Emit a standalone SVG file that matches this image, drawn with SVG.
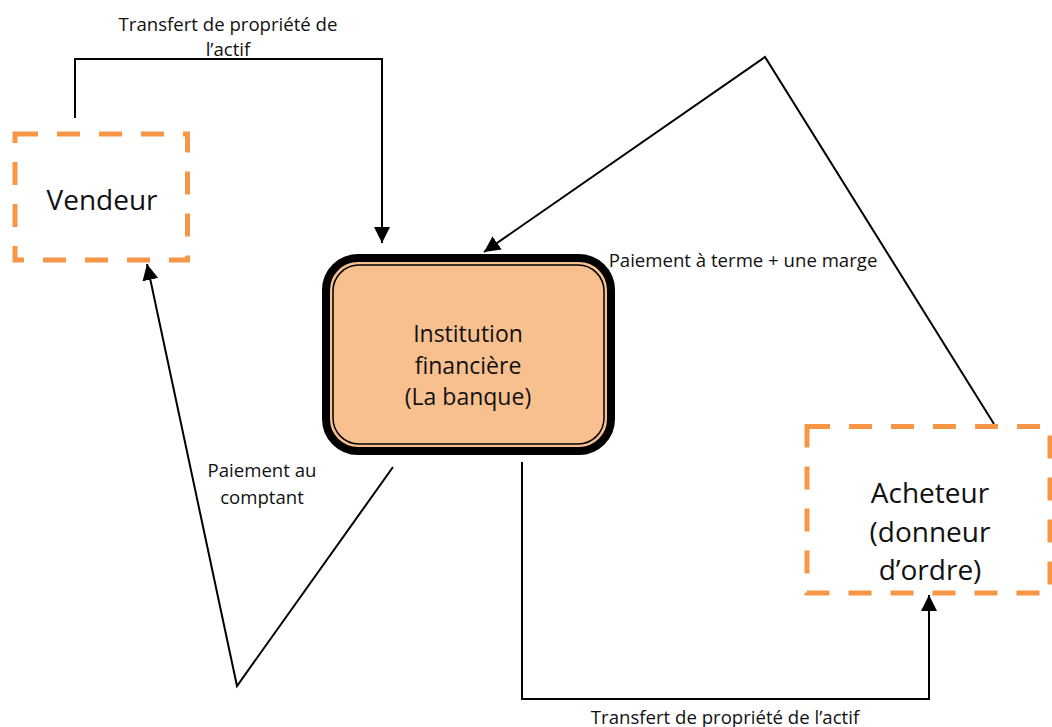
<svg xmlns="http://www.w3.org/2000/svg" width="1052" height="727" viewBox="0 0 1052 727">
  <style>
    text { font-family: "Open Sans", "Noto Sans", "Liberation Sans", sans-serif; fill: #111; text-anchor: middle; }
    .lbl { font-size: 18.6px; }
    .big { font-size: 28px; }
    .mid { font-size: 23px; }
    .party { fill: #fff; stroke: #F79646; stroke-width: 5; stroke-dasharray: 23 19; }
    .link { fill: none; stroke: #000; stroke-width: 2; }
  </style>
  <defs>
    <marker id="head" viewBox="0 0 16 16" refX="16" refY="8" markerWidth="16" markerHeight="16" markerUnits="userSpaceOnUse" orient="auto">
      <path d="M0,0 L16,8 L0,16 z" fill="#000"/>
    </marker>
  </defs>

  <!-- connectors -->
  <g id="connectors">
    <!-- seller to bank: transfer of ownership -->
    <path class="link" d="M75,118 V59 H382 V243" marker-end="url(#head)"/>
    <!-- buyer to bank: deferred payment plus margin -->
    <path class="link" d="M994,424 L765,57 L484,252" stroke-width="1.8" marker-end="url(#head)"/>
    <!-- bank to seller: cash payment -->
    <path class="link" d="M393,467 L237,686 L147,264" marker-end="url(#head)"/>
    <!-- bank to buyer: transfer of ownership -->
    <path class="link" d="M522,462 V699 H929 V595" marker-end="url(#head)"/>

    <text class="lbl" x="228" y="31">Transfert de propriété de</text>
    <text class="lbl" x="228" y="56">l’actif</text>
    <text class="lbl" x="743" y="267">Paiement à terme + une marge</text>
    <text class="lbl" x="262" y="477">Paiement au</text>
    <text class="lbl" x="262" y="504">comptant</text>
    <text class="lbl" x="725" y="724">Transfert de propriété de l’actif</text>
  </g>

  <!-- seller -->
  <g id="vendeur">
    <rect class="party" x="15" y="134" width="172.5" height="126"/>
    <text class="big" x="102" y="210">Vendeur</text>
  </g>

  <!-- financial institution -->
  <g id="banque">
    <rect x="326" y="258" width="285" height="193" rx="32" fill="#F8BF8F" stroke="#000" stroke-width="8"/>
    <rect x="333" y="265" width="271" height="179" rx="26" fill="none" stroke="#000" stroke-width="1.5"/>
    <text class="mid" x="468" y="342">Institution</text>
    <text class="mid" x="468" y="374">financière</text>
    <text class="mid" x="468" y="405">(La banque)</text>
  </g>

  <!-- buyer -->
  <g id="acheteur">
    <rect class="party" x="807" y="426.5" width="243" height="166.5"/>
    <text class="big" x="930" y="503">Acheteur</text>
    <text class="big" x="930" y="542">(donneur</text>
    <text class="big" x="930" y="580">d’ordre)</text>
  </g>
</svg>
